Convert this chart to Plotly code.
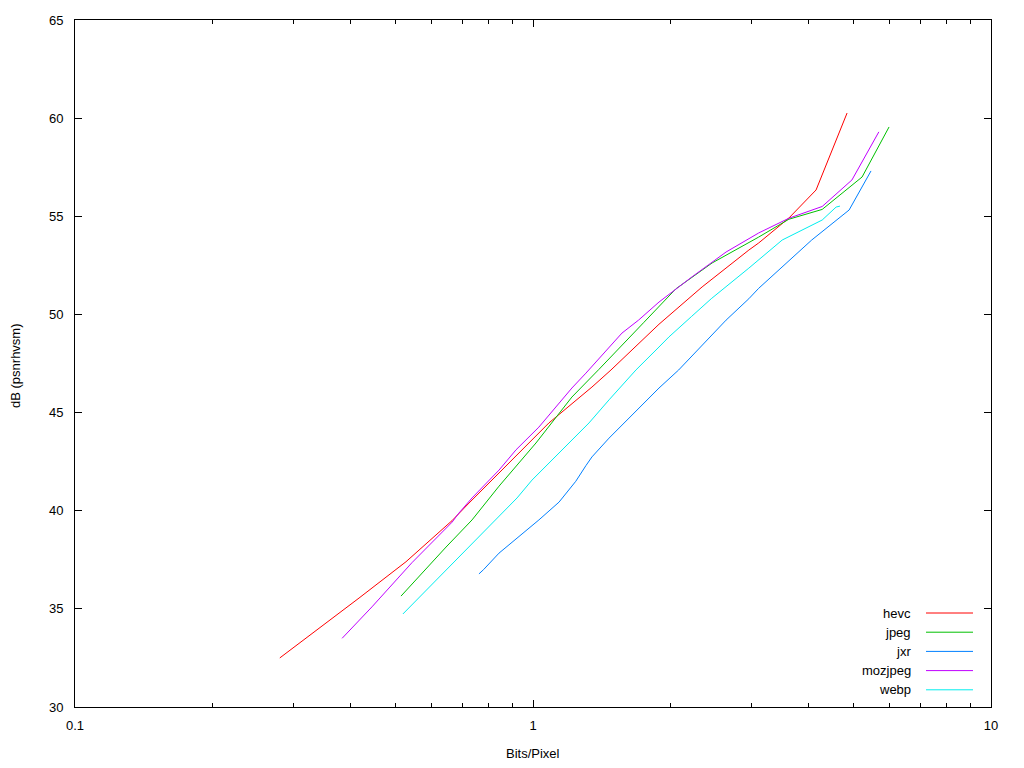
import plotly.graph_objects as go

hevc_x = [0.280, 0.364, 0.417, 0.528, 0.666, 0.725, 0.814, 1.03, 1.083, 1.345, 1.48, 1.884, 2.34, 2.96, 3.11, 3.62, 4.15, 4.85]
hevc_y = [32.5, 34.5, 35.55, 37.4, 39.5, 40.39, 41.56, 43.96, 44.47, 46.3, 47.17, 49.5, 51.4, 53.28, 53.64, 54.91, 56.34, 60.26]

jpeg_x = [0.515, 0.646, 0.736, 0.802, 0.843, 1.015, 1.216, 1.393, 1.466, 1.678, 1.747, 2.05, 2.46, 3.11, 3.62, 4.28, 5.23, 5.99]
jpeg_y = [35.65, 38.15, 39.53, 40.65, 41.25, 43.45, 45.79, 47.2, 47.75, 49.2, 49.6, 51.3, 52.62, 53.94, 54.85, 55.35, 57.0, 59.55]

jxr_x = [0.762, 0.78, 0.843, 1.03, 1.14, 1.198, 1.24, 1.305, 1.345, 1.466, 1.884, 2.08, 2.64, 2.96, 3.11, 4.06, 4.90, 5.47]
jxr_y = [36.78, 37.0, 37.84, 39.53, 40.44, 41.1, 41.5, 42.3, 42.74, 43.7, 46.25, 47.17, 49.71, 50.8, 51.33, 53.79, 55.32, 57.31]

moz_x = [0.383, 0.445, 0.544, 0.666, 0.689, 0.736, 0.843, 0.918, 1.03, 1.216, 1.305, 1.564, 1.70, 1.884, 2.22, 2.64, 3.11, 3.62, 4.28, 4.97, 5.69]
moz_y = [33.5, 35.1, 37.35, 39.42, 39.88, 40.65, 42.07, 43.1, 44.26, 46.25, 47.01, 49.05, 49.71, 50.63, 51.9, 53.18, 54.15, 54.9, 55.5, 56.85, 59.3]

webp_x = [0.520, 0.689, 0.923, 0.995, 1.14, 1.325, 1.466, 1.678, 1.884, 1.98, 2.22, 2.45, 2.96, 3.11, 3.50, 4.28, 4.59, 4.68]
webp_y = [34.74, 37.64, 40.65, 41.56, 42.94, 44.47, 45.65, 47.17, 48.34, 48.85, 49.9, 50.8, 52.36, 52.77, 53.79, 54.81, 55.47, 55.52]

series = [
    ("hevc", hevc_x, hevc_y, "#ff0000"),
    ("jpeg", jpeg_x, jpeg_y, "#00c000"),
    ("jxr", jxr_x, jxr_y, "#0080ff"),
    ("mozjpeg", moz_x, moz_y, "#c000ff"),
    ("webp", webp_x, webp_y, "#00eeee"),
]

x_ticks = [0.1, 1, 10]
x_tick_text = ["0.1", "1", "10"]
x_minor_ticks = [0.2, 0.3, 0.4, 0.5, 0.6, 0.7, 0.8, 0.9, 2, 3, 4, 5, 6, 7, 8, 9]
y_ticks = [30, 35, 40, 45, 50, 55, 60, 65]

fig = go.Figure()
for name, xs, ys, c in series:
    fig.add_trace(go.Scatter(x=xs, y=ys, mode="lines", name=name,
                             line=dict(color=c, width=1), showlegend=False))

# invisible trace to anchor the minor-tick overlay axis
fig.add_trace(go.Scatter(x=[1], y=[40], xaxis="x2", mode="markers",
                         marker=dict(opacity=0), showlegend=False, hoverinfo="skip"))

W, H = 1024, 768
L, R, T, B = 75, 33, 20, 61
pw, ph = W - L - R, H - T - B

def px_to_paper(xp, yp):
    return (xp - L) / pw, 1 - (yp - T) / ph

# legend drawn gnuplot-style (text left of sample)
for i, (name, xs, ys, c) in enumerate(series):
    ypix = 613 + i * 19.2
    _, yp = px_to_paper(0, ypix)
    fig.add_annotation(xref="paper", yref="paper", x=(913 - L) / pw, y=yp,
                       text=name, showarrow=False, xanchor="right", yanchor="middle",
                       font=dict(size=13, color="#000000"))
    fig.add_shape(type="line", xref="paper", yref="paper",
                  x0=(926 - L) / pw, x1=(973 - L) / pw, y0=yp, y1=yp,
                  line=dict(color=c, width=1))

# axis titles
tx, ty = px_to_paper(533, 753)
fig.add_annotation(xref="paper", yref="paper", x=tx, y=ty, text="Bits/Pixel",
                   showarrow=False, xanchor="center", yanchor="middle",
                   font=dict(size=13, color="#000000"))
tx, ty = px_to_paper(15, 366)
fig.add_annotation(xref="paper", yref="paper", x=tx, y=ty, text="dB (psnrhvsm)",
                   showarrow=False, xanchor="center", yanchor="middle", textangle=-90,
                   font=dict(size=13, color="#000000"))

axis_common = dict(showline=True, linecolor="black", linewidth=1, mirror="ticks",
                   ticks="inside", ticklen=7, tickcolor="black", tickwidth=1,
                   showgrid=False, zeroline=False, automargin=False,
                   tickfont=dict(size=13, color="#000000"))

fig.update_layout(
    xaxis=dict(type="log", range=[-1, 1], tickvals=x_ticks, ticktext=x_tick_text,
               ticklabelstandoff=6, **axis_common),
    xaxis2=dict(type="log", range=[-1, 1], overlaying="x", anchor="y", side="bottom",
                tickvals=x_minor_ticks, showticklabels=False, ticks="inside", ticklen=4,
                tickcolor="black", tickwidth=1, mirror="ticks", showline=False,
                showgrid=False, zeroline=False, automargin=False),
    yaxis=dict(range=[30, 65], tickvals=y_ticks, ticklabelstandoff=8, **axis_common),
)

fig.update_layout(width=W, height=H, margin=dict(l=L, r=R, t=T, b=B),
                  plot_bgcolor="white", paper_bgcolor="white",
                  font=dict(family="Liberation Sans, Arial, sans-serif", size=13, color="#000000"))

fig.write_html("out.html")
